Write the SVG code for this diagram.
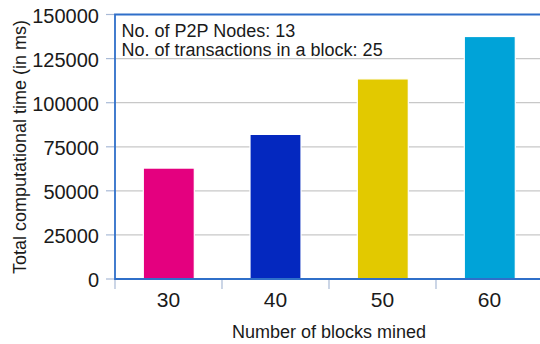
<svg xmlns="http://www.w3.org/2000/svg" width="540" height="344" viewBox="0 0 540 344">
<style>
text{font-family:"Liberation Sans",Arial,sans-serif;fill:#1a1a1a}
.grid{stroke:#c8c8c8;stroke-width:1.2}
.tick{stroke:#a9bad6;stroke-width:1.2}
.axis{stroke:#2f6fc9;stroke-width:1.8;fill:none}
.bar{stroke:#ffffff;stroke-width:1.2}
.yl{font-size:20px;text-anchor:end}
.xl{font-size:21px;text-anchor:middle}
.note{font-size:18px}
</style>
<rect width="540" height="344" fill="#ffffff"/>
<g id="grid">
<line class="grid" x1="115" y1="58.6" x2="540" y2="58.6"/>
<line class="grid" x1="115" y1="102.7" x2="540" y2="102.7"/>
<line class="grid" x1="115" y1="146.8" x2="540" y2="146.8"/>
<line class="grid" x1="115" y1="190.8" x2="540" y2="190.8"/>
<line class="grid" x1="115" y1="234.9" x2="540" y2="234.9"/>
</g>
<g id="ticks">
<line class="tick" x1="106" y1="14.5" x2="115" y2="14.5"/>
<line class="tick" x1="106" y1="58.6" x2="115" y2="58.6"/>
<line class="tick" x1="106" y1="102.7" x2="115" y2="102.7"/>
<line class="tick" x1="106" y1="146.8" x2="115" y2="146.8"/>
<line class="tick" x1="106" y1="190.8" x2="115" y2="190.8"/>
<line class="tick" x1="106" y1="234.9" x2="115" y2="234.9"/>
<line class="tick" x1="106" y1="279" x2="115" y2="279"/>
<line class="tick" x1="115" y1="279" x2="115" y2="289"/>
<line class="tick" x1="222" y1="279" x2="222" y2="289"/>
<line class="tick" x1="329" y1="279" x2="329" y2="289"/>
<line class="tick" x1="436" y1="279" x2="436" y2="289"/>
</g>
<g id="bar-30"><rect class="bar" x="143.3" y="168.1" width="51" height="110.9" fill="#e4007f"/></g>
<g id="bar-40"><rect class="bar" x="250" y="134.4" width="51" height="144.6" fill="#0428bf"/></g>
<g id="bar-50"><rect class="bar" x="357.3" y="78.9" width="51" height="200.1" fill="#e2c900"/></g>
<g id="bar-60"><rect class="bar" x="464.3" y="36.5" width="51" height="242.5" fill="#00a3d8"/></g>
<g id="axes">
<polyline class="axis" points="541,14.5 115,14.5 115,279 541,279"/>
</g>
<g id="y-labels">
<text class="yl" x="99" y="22.5">150000</text>
<text class="yl" x="99" y="66.6">125000</text>
<text class="yl" x="99" y="110.7">100000</text>
<text class="yl" x="99" y="154.8">75000</text>
<text class="yl" x="99" y="198.8">50000</text>
<text class="yl" x="99" y="242.9">25000</text>
<text class="yl" x="99" y="287">0</text>
</g>
<g id="x-labels">
<text class="xl" x="168.5" y="307.3">30</text>
<text class="xl" x="275.5" y="307.3">40</text>
<text class="xl" x="382.5" y="307.3">50</text>
<text class="xl" x="489.5" y="307.3">60</text>
</g>
<g id="note">
<text class="note" x="121.5" y="36.5">No. of P2P Nodes: 13</text>
<text class="note" x="121.5" y="55.5">No. of transactions in a block: 25</text>
</g>
<text id="x-title" x="329" y="337.5" font-size="18" text-anchor="middle">Number of blocks mined</text>
<text id="y-title" transform="translate(26,147) rotate(-90)" font-size="18" text-anchor="middle">Total computational time (in ms)</text>
</svg>
